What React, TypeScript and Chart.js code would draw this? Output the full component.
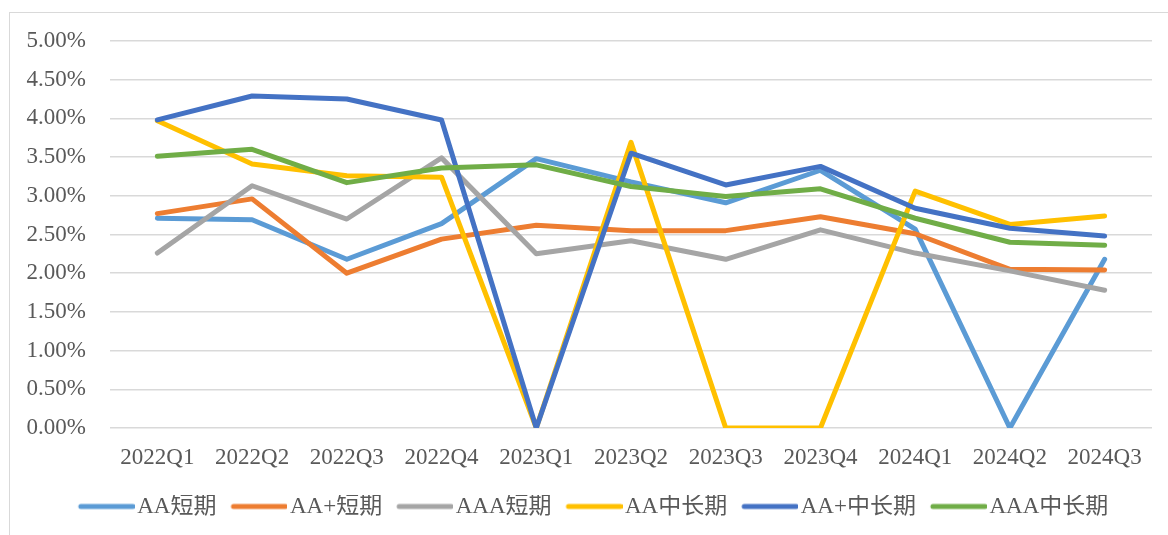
import React, { useEffect, useRef } from "react";
import { Chart, registerables } from "chart.js";

Chart.register(...registerables);

const categories = ["2022Q1", "2022Q2", "2022Q3", "2022Q4", "2023Q1", "2023Q2", "2023Q3", "2023Q4", "2024Q1", "2024Q2", "2024Q3"];

const seriesNames = ["AA短期", "AA+短期", "AAA短期", "AA中长期", "AA+中长期", "AAA中长期"];
const seriesColors = ["#5B9BD5", "#ED7D31", "#A5A5A5", "#FFC000", "#4472C4", "#70AD47"];

const aaShort = [2.71, 2.69, 2.18, 2.64, 3.48, 3.18, 2.91, 3.33, 2.57, 0, 2.18];
const aaPlusShort = [2.77, 2.96, 2.0, 2.44, 2.62, 2.55, 2.55, 2.73, 2.51, 2.05, 2.04];
const aaaShort = [2.26, 3.13, 2.7, 3.49, 2.25, 2.42, 2.18, 2.56, 2.26, 2.03, 1.78];
const aaLong = [3.97, 3.41, 3.26, 3.24, 0, 3.69, 0, 0, 3.06, 2.63, 2.74];
const aaPlusLong = [3.98, 4.29, 4.25, 3.98, 0, 3.55, 3.14, 3.38, 2.84, 2.58, 2.48];
const aaaLong = [3.51, 3.6, 3.17, 3.36, 3.4, 3.12, 2.99, 3.09, 2.71, 2.4, 2.36];

const seriesValues = [aaShort, aaPlusShort, aaaShort, aaLong, aaPlusLong, aaaLong];

const FONT = "'Liberation Serif', 'Times New Roman', 'Noto Sans CJK SC', serif";
const TEXT = "#595959";

function legendImage(color: string): HTMLCanvasElement {
  const c = document.createElement("canvas");
  c.width = 80;
  c.height = 8;
  const g = c.getContext("2d")!;
  g.strokeStyle = color;
  g.lineWidth = 5;
  g.lineCap = "round";
  g.beginPath();
  g.moveTo(26, 4);
  g.lineTo(78, 4);
  g.stroke();
  return c;
}

const framePlugin = {
  id: "frame",
  beforeDraw(chart: any) {
    const ctx = chart.ctx;
    ctx.save();
    ctx.fillStyle = "#ffffff";
    ctx.fillRect(0, 0, chart.width, chart.height);
    ctx.strokeStyle = "#D9D9D9";
    ctx.lineWidth = 1;
    ctx.strokeRect(9.5, 12.5, chart.width + 20, chart.height + 20);
    ctx.restore();
  },
};

export default function App() {
  const ref = useRef<HTMLCanvasElement | null>(null);

  useEffect(() => {
    if (!ref.current) return;
    const images = seriesColors.map(legendImage);
    const chart = new Chart(ref.current, {
      type: "line",
      data: {
        labels: categories,
        datasets: seriesNames.map((name, i) => ({
          label: name,
          data: seriesValues[i],
          borderColor: seriesColors[i],
          backgroundColor: seriesColors[i],
          borderWidth: 5,
          pointRadius: 0,
          pointHoverRadius: 0,
          tension: 0,
          borderJoinStyle: "round" as const,
          borderCapStyle: "round" as const,
          order: 6 - i,
        })),
      },
      options: {
        animation: false,
        responsive: true,
        maintainAspectRatio: false,
        layout: { padding: { left: 20, right: 16, top: 41, bottom: 7 } },
        plugins: {
          tooltip: { enabled: false },
          legend: {
            position: "bottom",
            labels: {
              usePointStyle: true,
              pointStyleWidth: 62,
              boxHeight: 5,
              padding: 0,
              color: TEXT,
              font: { family: FONT, size: 23 },
              generateLabels: (c: any) =>
                c.data.datasets.map((ds: any, i: number) => ({
                  text: ds.label,
                  datasetIndex: i,
                  pointStyle: images[i],
                  fillStyle: ds.borderColor,
                  strokeStyle: ds.borderColor,
                  lineWidth: 0,
                  hidden: false,
                  fontColor: TEXT,
                })),
            },
          },
        },
        scales: {
          x: {
            offset: true,
            grid: { display: false, drawTicks: false },
            border: { display: false },
            ticks: { color: TEXT, font: { family: FONT, size: 23 }, padding: 16, maxRotation: 0, autoSkip: false },
            afterFit: (s: any) => {
              s.height = 67;
            },
          },
          y: {
            min: 0,
            max: 5,
            grid: { color: "#D9D9D9", lineWidth: 1.5, drawTicks: false },
            border: { display: false },
            ticks: {
              stepSize: 0.5,
              padding: 24,
              color: TEXT,
              font: { family: FONT, size: 23 },
              callback: (v: any) => Number(v).toFixed(2) + "%",
            },
            afterFit: (s: any) => {
              s.width = 90;
            },
          },
        },
      },
      plugins: [framePlugin],
    });
    return () => chart.destroy();
  }, []);

  return (
    <div style={{ position: "fixed", left: 0, top: 0, width: 1168, height: 535, background: "#fff" }}>
      <canvas ref={ref} />
    </div>
  );
}
